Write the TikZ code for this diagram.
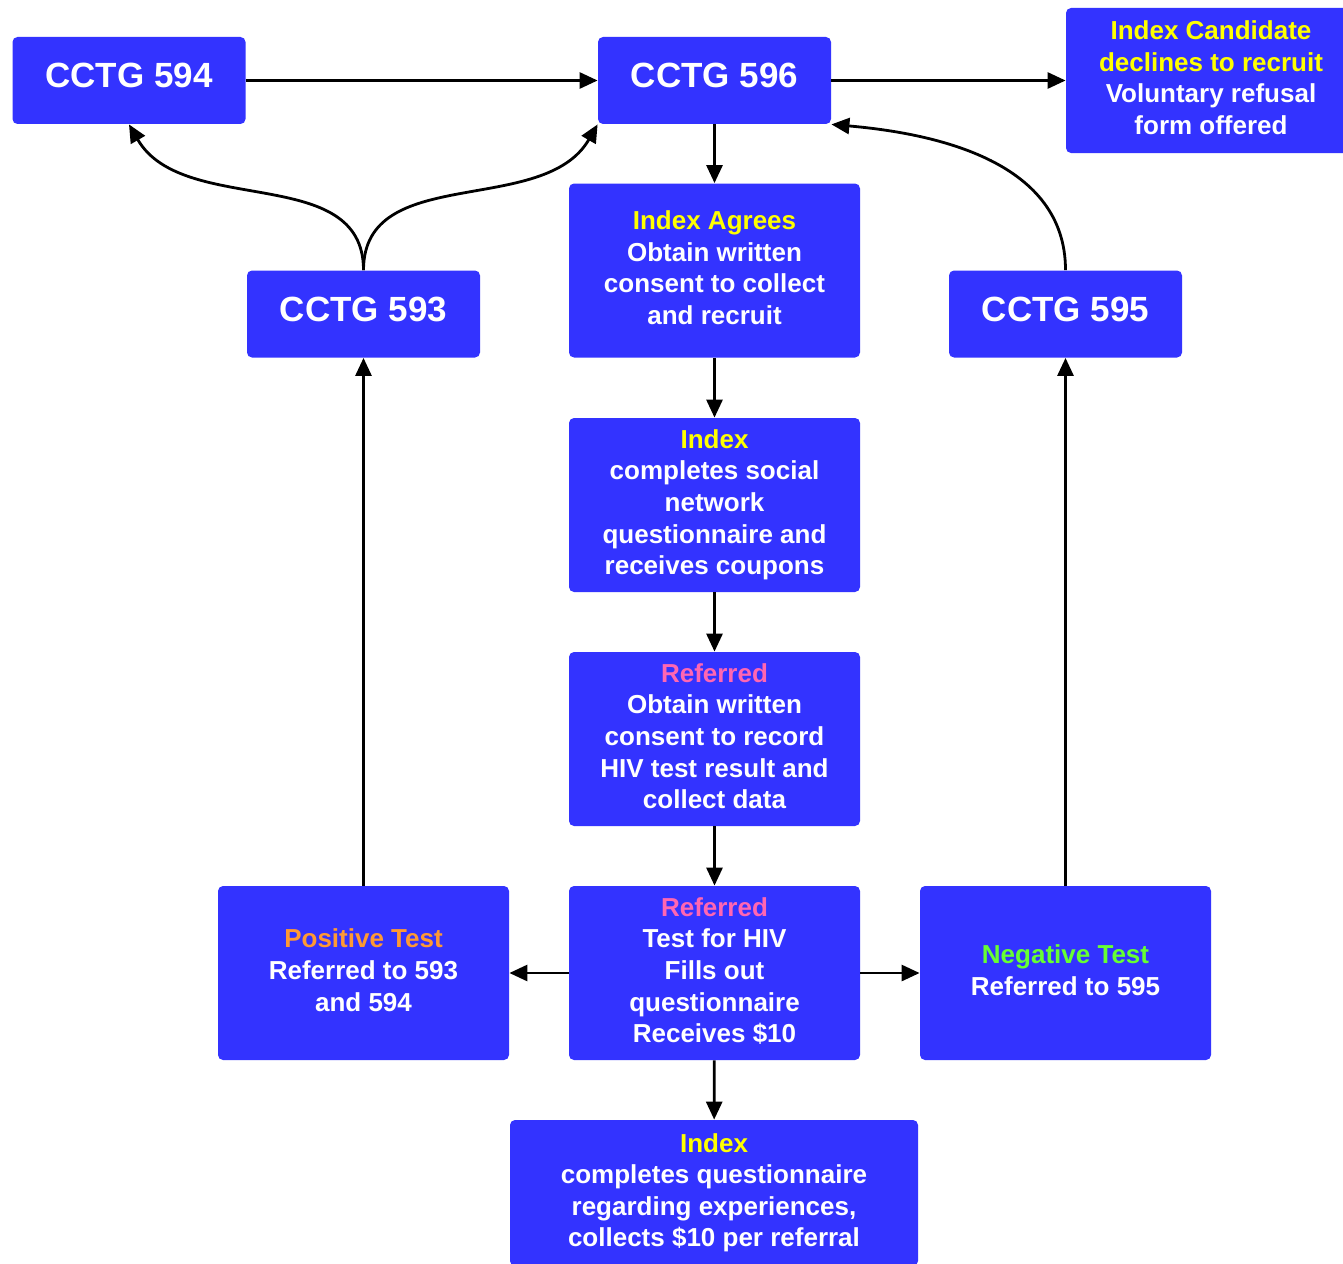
\documentclass[tikz,border=0pt]{standalone}
\usepackage{xcolor}
\usepackage{fontspec}
\setmainfont{Liberation Sans}
\usepackage{tikz}
\usetikzlibrary{arrows.meta}

\definecolor{boxblue}{RGB}{51,51,255}
\definecolor{idxyellow}{RGB}{255,255,0}
\definecolor{refpink}{RGB}{255,102,178}
\definecolor{posorange}{RGB}{255,153,51}
\definecolor{neggreen}{RGB}{102,255,51}

\begin{document}
\begin{tikzpicture}[x=0.5pt,y=-0.5pt]
\tikzstyle{box} = [rectangle, rounded corners=2.5pt, fill=boxblue, text=white, align=center, inner sep=0pt, text depth=3pt, font=\bfseries\fontsize{13}{15.8}\selectfont]
\tikzstyle{small} = [box, minimum width=116.5pt, minimum height=43.5pt, text depth=5pt, font=\bfseries\fontsize{17.5}{20}\selectfont]
\tikzstyle{tall} = [box, minimum width=145.5pt, minimum height=87pt]
\tikzstyle{arrow} = [line width=1.4pt,-{Triangle[length=9pt,width=8pt]}]

\useasboundingbox (0,0) rectangle (1343,1263);

% top row
\node (c594) [small] at (129,80.5) {CCTG 594};
\node (c596) [small] at (714.5,80.5) {CCTG 596};
\node (decline) [box, minimum width=145pt, minimum height=72.5pt] at (1211,80.5) {\textcolor{idxyellow}{Index Candidate}\\\textcolor{idxyellow}{declines to recruit}\\Voluntary refusal\\form offered};

% second row
\node (c593) [small] at (363.5,314) {CCTG 593};
\node (agree) [tall] at (714.5,270.5) {\textcolor{idxyellow}{Index Agrees}\\Obtain written\\consent to collect\\and recruit};
\node (c595) [small] at (1065.5,314) {CCTG 595};

% middle column
\node (social) [tall] at (714.5,505) {\textcolor{idxyellow}{Index}\\completes social\\network\\questionnaire and\\receives coupons};
\node (consent) [tall] at (714.5,739) {\textcolor{refpink}{Referred}\\Obtain written\\consent to record\\HIV test result and\\collect data};
\node (test) [tall] at (714.5,973) {\textcolor{refpink}{Referred}\\Test for HIV\\Fills out\\questionnaire\\Receives \$10};
\node (pos) [tall] at (363.5,973) {\textcolor{posorange}{Positive Test}\\Referred to 593\\and 594};
\node (neg) [tall] at (1065.5,973) {\textcolor{neggreen}{Negative Test}\\Referred to 595};
\node (final) [box, minimum width=204pt, minimum height=73pt] at (714,1193) {\textcolor{idxyellow}{Index}\\completes questionnaire\\regarding experiences,\\collects \$10 per referral};

\draw [arrow] (c594) -- (c596);
\draw [arrow] (c596) -- (decline);
\draw [arrow] (c596) -- (agree);
\draw [arrow] (agree) -- (social);
\draw [arrow] (social) -- (consent);
\draw [arrow] (consent) -- (test);
\draw [arrow] (test) -- (pos);
\draw [arrow] (test) -- (neg);
\draw [arrow] (test) -- (final);
\draw [arrow] (pos) -- (c593);
\draw [arrow] (neg) -- (c595);
\draw [arrow] (c593.north) to[out=90,in=-60] (c594.south);
\draw [arrow] (c593.north) to[out=90,in=-120] (c596.south west);
\draw [arrow] (c595.north) to[out=90,in=-5] (c596.south east);
\end{tikzpicture}
\end{document}
